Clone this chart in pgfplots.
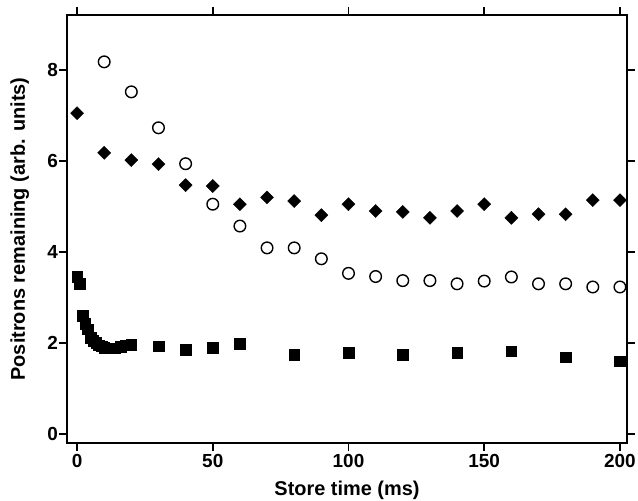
\documentclass[border=0pt]{standalone}
\usepackage{fontspec}
\setmainfont{Liberation Sans}
\usepackage{pgfplots}
\pgfplotsset{compat=1.18}
\begin{document}
\begin{tikzpicture}
\begin{axis}[
  scale only axis,
  width=560bp, height=428bp,
  xmin=-3.7, xmax=202.6, ymin=-0.2, ymax=9.21,
  xtick={0,50,100,150,200}, ytick={0,2,4,6,8},
  tick align=outside, tick pos=both,
  major tick length=8bp,
  axis line style={line width=1.6bp},
  every tick/.style={line width=1.6bp, black},
  /pgf/number format/assume math mode=true,
  tick label style={font=\fontsize{19}{21}\selectfont\bfseries},
  xticklabel style={inner sep=2bp, yshift=-1bp},
  yticklabel style={inner sep=2bp, xshift=1bp},
  label style={font=\fontsize{20}{22}\selectfont\bfseries},
  xlabel={Store time (ms)},
  ylabel={Positrons remaining (arb. units)},
  xlabel style={inner sep=0pt, yshift=-11bp},
  ylabel style={inner sep=0pt, yshift=16bp},
  clip=false,
]
% squares
\addplot[only marks, mark=square*, mark size=5.3bp, black] coordinates {
(0,3.45) (1,3.30) (2,2.60) (3,2.42) (4,2.30) (5,2.12) (6,2.05) (7,2.00)
(8,1.95) (9,1.93) (10,1.90) (12,1.88) (14,1.88) (16,1.92) (18,1.95) (20,1.96)
(30,1.93) (40,1.85) (50,1.89) (60,1.98) (80,1.74) (100,1.78) (120,1.74)
(140,1.78) (160,1.82) (180,1.69) (200,1.60)
};
% diamonds
\addplot[only marks, mark=square*, mark size=4.6bp, mark options={rotate=45}, black] coordinates {
(0,7.05) (10,6.18) (20,6.02) (30,5.93) (40,5.47) (50,5.45) (60,5.05) (70,5.20)
(80,5.12) (90,4.81) (100,5.05) (110,4.90) (120,4.88) (130,4.75) (140,4.90)
(150,5.05) (160,4.75) (170,4.83) (180,4.83) (190,5.14) (200,5.14)
};
% circles
\addplot[only marks, mark=o, mark size=5.8bp, mark options={line width=1.4bp}, black] coordinates {
(10,8.18) (20,7.52) (30,6.73) (40,5.94) (50,5.05) (60,4.57) (70,4.09) (80,4.09)
(90,3.85) (100,3.53) (110,3.46) (120,3.37) (130,3.37) (140,3.30) (150,3.36)
(160,3.45) (170,3.30) (180,3.30) (190,3.23) (200,3.23)
};
\path (rel axis cs:0,0) ++(-67bp,-58bp) coordinate (bl);
\path (rel axis cs:1,1) ++(11bp,15bp) coordinate (tr);
\end{axis}
\useasboundingbox (bl) rectangle (tr);
\end{tikzpicture}
\end{document}
